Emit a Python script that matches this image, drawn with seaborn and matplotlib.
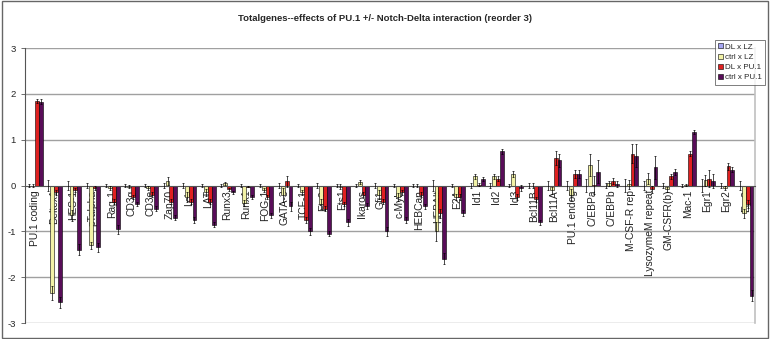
import numpy as np
import pandas as pd
import matplotlib
matplotlib.use("Agg")
import matplotlib.pyplot as plt
from matplotlib.patches import Rectangle
import seaborn as sns

genes = ["PU.1 coding", "Deltex1", "HES-1", "pTalpha", "Rag-1", "CD3g", "CD3e",
         "Zap70", "Lck", "LAT", "Runx3", "Runx1", "FOG-1", "GATA-3", "TCF-1",
         "Ets2", "Ets1", "Ikaros", "Gfi1", "c-Myb", "HEBCan", "HEBAlt", "E2A",
         "Id1", "Id2", "Id3", "Bcl11B", "Bcl11A", "PU.1 endog", "C/EBPa",
         "C/EBPb", "M-CSF-R rep", "LysozymeM repeat", "GM-CSFR(b)", "Mac-1",
         "Egr1", "Egr2", "Egr3"]
series = ["DL x LZ", "ctrl x LZ", "DL x PU.1", "ctrl x PU.1"]

dl_lz = [0.0, 0.0, 0.0, 0.0, 0.0, 0.0, 0.0, 0.0, 0.0, 0.0, 0.0, 0.0, 0.0,
         0.0, 0.0, 0.0, 0.0, 0.0, 0.0, 0.0, 0.0, 0.0, 0.0, 0.0, 0.0, 0.0,
         0.0, 0.0, 0.0, 0.0, 0.0, 0.0, 0.0, 0.0, 0.0, 0.0, 0.0, 0.0]
ctrl_lz = [0.0, -2.35, -0.65, -1.3, -0.05, -0.02, -0.05, 0.1, -0.25, -0.15,
           0.05, -0.38, -0.1, -0.2, -0.15, -0.4, -0.02, 0.08, -0.2, -0.25,
           0.0, -1.0, -0.25, 0.2, 0.2, 0.25, 0.0, -0.1, -0.2, 0.45, 0.05,
           0.03, 0.15, -0.08, 0.02, 0.12, -0.05, -0.6]
dl_pu1 = [1.85, -0.15, -0.1, -0.05, -0.35, -0.25, -0.2, -0.35, -0.35, -0.35,
          -0.08, -0.02, -0.25, 0.1, -0.75, -0.5, -0.4, -0.2, -0.35, -0.15,
          -0.2, -0.6, -0.25, 0.02, 0.15, -0.25, -0.3, 0.6, 0.25, 0.02, 0.1,
          0.7, -0.08, 0.2, 0.7, 0.15, 0.42, -0.4]
ctrl_pu1 = [1.83, -2.55, -1.4, -1.35, -0.95, -0.4, -0.5, -0.7, -0.75, -0.85,
            -0.15, -0.25, -0.65, -0.45, -1.0, -1.05, -0.8, -0.45, -1.0, -0.75,
            -0.45, -1.6, -0.6, 0.15, 0.75, -0.05, -0.8, 0.55, 0.25, 0.3, 0.03,
            0.65, 0.4, 0.3, 1.17, 0.1, 0.35, -2.4]

err_dl_lz = [0.03, 0.12, 0.1, 0.05, 0.04, 0.03, 0.03, 0.05, 0.05, 0.04,
             0.03, 0.03, 0.03, 0.05, 0.03, 0.05, 0.04, 0.04, 0.05, 0.03,
             0.03, 0.12, 0.04, 0.05, 0.05, 0.04, 0.05, 0.1, 0.1, 0.15, 0.05,
             0.15, 0.1, 0.05, 0.03, 0.15, 0.05, 0.1]
err_ctrl_lz = [0.03, 0.15, 0.12, 0.08, 0.05, 0.03, 0.04, 0.08, 0.1, 0.08,
               0.03, 0.06, 0.05, 0.15, 0.05, 0.1, 0.05, 0.05, 0.1, 0.08,
               0.03, 0.2, 0.06, 0.06, 0.06, 0.06, 0.05, 0.08, 0.12, 0.25,
               0.06, 0.1, 0.12, 0.06, 0.02, 0.12, 0.04, 0.1]
err_dl_pu1 = [0.05, 0.05, 0.05, 0.04, 0.06, 0.05, 0.05, 0.06, 0.06, 0.05,
              0.03, 0.02, 0.05, 0.12, 0.06, 0.06, 0.05, 0.05, 0.06, 0.05,
              0.05, 0.1, 0.06, 0.03, 0.06, 0.06, 0.06, 0.15, 0.08, 0.2, 0.06,
              0.2, 0.08, 0.06, 0.05, 0.18, 0.08, 0.08]
err_ctrl_pu1 = [0.05, 0.12, 0.12, 0.1, 0.1, 0.04, 0.05, 0.06, 0.06, 0.05,
                0.03, 0.04, 0.05, 0.1, 0.08, 0.06, 0.08, 0.06, 0.1, 0.06,
                0.05, 0.12, 0.06, 0.04, 0.05, 0.06, 0.06, 0.15, 0.08, 0.25,
                0.06, 0.25, 0.25, 0.06, 0.04, 0.15, 0.06, 0.12]

colors = ["#9999FF", "#FFFF99", "#FF0000", "#660066"]
values = [dl_lz, ctrl_lz, dl_pu1, ctrl_pu1]
errors = [err_dl_lz, err_ctrl_lz, err_dl_pu1, err_ctrl_pu1]

rows = []
for s, vals in zip(series, values):
    for g, v in zip(genes, vals):
        rows.append({"gene": g, "series": s, "value": v})
df = pd.DataFrame(rows)

sns.set_style("white")
plt.rcParams["font.family"] = ["Liberation Sans", "DejaVu Sans"]

fig = plt.figure(figsize=(7.7, 3.39), dpi=100)
ax = fig.add_axes([0.033, 0.047, 0.948, 0.811])

sns.barplot(data=df, x="gene", y="value", hue="series", order=genes,
            hue_order=series, palette=colors, errorbar=None, width=0.8,
            edgecolor="black", linewidth=0.4, ax=ax)

for cont, errs, vals in zip(ax.containers, errors, values):
    xs = [b.get_x() + b.get_width() / 2 for b in cont]
    ax.errorbar(xs, vals, yerr=errs, fmt="none", ecolor="black",
                elinewidth=0.5, capsize=1.0, capthick=0.5, zorder=5)

ax.set_axisbelow(True)
ax.set_ylim(-3, 3)
ax.set_xlim(-0.5, len(genes) - 0.5)
ax.set_yticks([-3, -2, -1, 0, 1, 2, 3])
ax.set_yticklabels(["-3", "-2", "-1", "0", "1", "2", "3"], fontsize=6.8)
for yv in [-3, -2, -1, 1, 2, 3]:
    ax.axhline(yv, color="#A0A0A0", lw=1.0, zorder=0)
ax.spines["bottom"].set_position(("data", 0))
ax.spines["bottom"].set_color("#555555")
ax.spines["bottom"].set_linewidth(0.8)
ax.spines["bottom"].set_zorder(3)
ax.spines["top"].set_visible(False)
ax.spines["left"].set_color("#555555")
ax.spines["left"].set_linewidth(0.8)
ax.spines["right"].set_color("#C0C0C0")
ax.spines["right"].set_linewidth(1.2)
ax.tick_params(axis="y", length=3, width=0.6, color="#555555", pad=4, left=True)
ax.tick_params(axis="x", length=0, pad=3)
ax.set_xticks(range(len(genes)))
ax.set_xticklabels(genes, rotation=90, fontsize=7.4, va="top", ha="center",
                   color="#222222")
ax.set_xlabel("")
ax.set_ylabel("")

leg = ax.legend(loc="upper right", bbox_to_anchor=(1.0 + 10 / 730, 1.0 + 8 / 275),
                fontsize=5.8, frameon=True, fancybox=False, borderpad=0.4,
                handlelength=0.6, handleheight=0.6, handletextpad=0.3,
                labelspacing=0.35, borderaxespad=0)
leg.get_frame().set_edgecolor("#444444")
leg.get_frame().set_linewidth(0.6)
leg.set_zorder(10)

fig.text(0.5, 0.945, "Totalgenes--effects of PU.1 +/- Notch-Delta interaction (reorder 3)",
         ha="center", va="center", fontsize=6.8, fontweight="bold")

fig.patches.append(Rectangle((0.002, 0.004), 0.995, 0.992, transform=fig.transFigure,
                             fill=False, edgecolor="#666666", lw=1.0))

fig.savefig("out.png", dpi=100)
